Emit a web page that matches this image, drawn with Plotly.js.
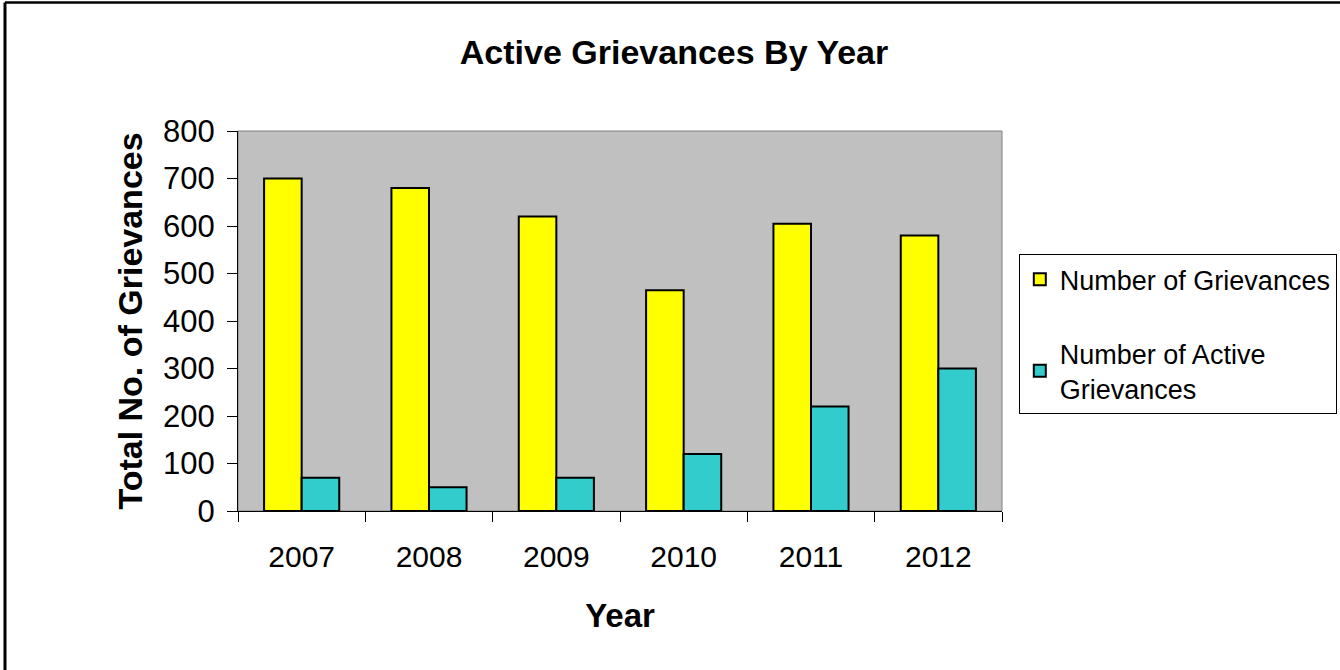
<!DOCTYPE html>
<html>
<head>
<meta charset="utf-8">
<script src="https://cdn.plot.ly/plotly-3.0.1.min.js"></script>
<style>
  html, body { margin: 0; padding: 0; background: #ffffff; }
  #chart { width: 1340px; height: 670px; }
</style>
</head>
<body>
<div id="chart"></div>
<script>
const years = ["2007", "2008", "2009", "2010", "2011", "2012"];
const totalGrievances = [700, 680, 620, 465, 605, 580];
const activeGrievances = [70, 50, 70, 120, 220, 300];
const seriesNames = ["Number of Grievances", "Number of Active<br>Grievances"];
const yTickValues = [0, 100, 200, 300, 400, 500, 600, 700, 800];

const FONT = "Arial, 'Liberation Sans', sans-serif";

const traces = [
  {
    type: "bar",
    name: seriesNames[0],
    x: years,
    y: totalGrievances,
    legendgroup: "a",
    marker: { color: "#FFFF00", line: { color: "#000000", width: 2 } },
    hoverinfo: "x+y"
  },
  {
    type: "bar",
    name: seriesNames[1],
    x: years,
    y: activeGrievances,
    legendgroup: "b",
    marker: { color: "#33CCCC", line: { color: "#000000", width: 2 } },
    hoverinfo: "x+y"
  }
];

const layout = {
  width: 1340,
  height: 670,
  paper_bgcolor: "#FFFFFF",
  plot_bgcolor: "#C0C0C0",
  margin: { l: 238, r: 338, t: 131, b: 159, pad: 0, autoexpand: false },
  barmode: "group",
  bargap: 0.41,
  bargroupgap: 0,
  font: { family: FONT, color: "#000000" },
  title: {
    text: "<b>Active Grievances By Year</b>",
    font: { family: FONT, size: 34, color: "#000000" },
    x: 0.503, xref: "container", xanchor: "center",
    y: 0.922, yanchor: "middle"
  },
  xaxis: {
    type: "category",
    tickson: "boundaries",
    ticks: "outside",
    ticklen: 10,
    tickwidth: 1,
    tickcolor: "#000000",
    ticklabelstandoff: 19,
    showline: true,
    linecolor: "#000000",
    linewidth: 1,
    showgrid: false,
    zeroline: false,
    tickfont: { family: FONT, size: 30, color: "#000000" },
    title: {
      text: "<b>Year</b>",
      font: { family: FONT, size: 33, color: "#000000" },
      standoff: 31
    }
  },
  yaxis: {
    range: [0, 800],
    tickvals: yTickValues,
    ticks: "outside",
    ticklen: 10,
    tickwidth: 1,
    tickcolor: "#000000",
    ticklabelstandoff: 6,
    showline: true,
    linecolor: "#000000",
    linewidth: 1,
    showgrid: false,
    zeroline: false,
    tickfont: { family: FONT, size: 31, color: "#000000" },
    title: {
      text: "<b>Total No. of Grievances</b>",
      font: { family: FONT, size: 34, color: "#000000" },
      standoff: 10
    }
  },
  showlegend: true,
  legend: {
    x: 1.022, xanchor: "left",
    y: 0.676, yanchor: "top",
    bgcolor: "#FFFFFF",
    bordercolor: "#000000",
    borderwidth: 1,
    font: { family: FONT, size: 27, color: "#000000" },
    traceorder: "grouped",
    tracegroupgap: 36,
    itemwidth: 30,
    itemclick: false,
    itemdoubleclick: false
  },
  shapes: [
    { type: "line", xref: "paper", yref: "paper",
      x0: (5 - 238) / 764, x1: (1340 - 238) / 764,
      y0: (670 - 159 - 2.5) / 380, y1: (670 - 159 - 2.5) / 380,
      line: { color: "#000000", width: 2.5 } },
    { type: "line", xref: "paper", yref: "paper",
      x0: (5 - 238) / 764, x1: (5 - 238) / 764,
      y0: -159 / 380, y1: (670 - 159 - 2.5) / 380,
      line: { color: "#000000", width: 3 } },
    { type: "rect", xref: "paper", yref: "paper",
      x0: 0, x1: 1, y0: 0, y1: 1,
      line: { color: "#808080", width: 1 }, layer: "below" }
  ]
};

Plotly.newPlot("chart", traces, layout, { displayModeBar: false, staticPlot: false });
</script>
</body>
</html>
